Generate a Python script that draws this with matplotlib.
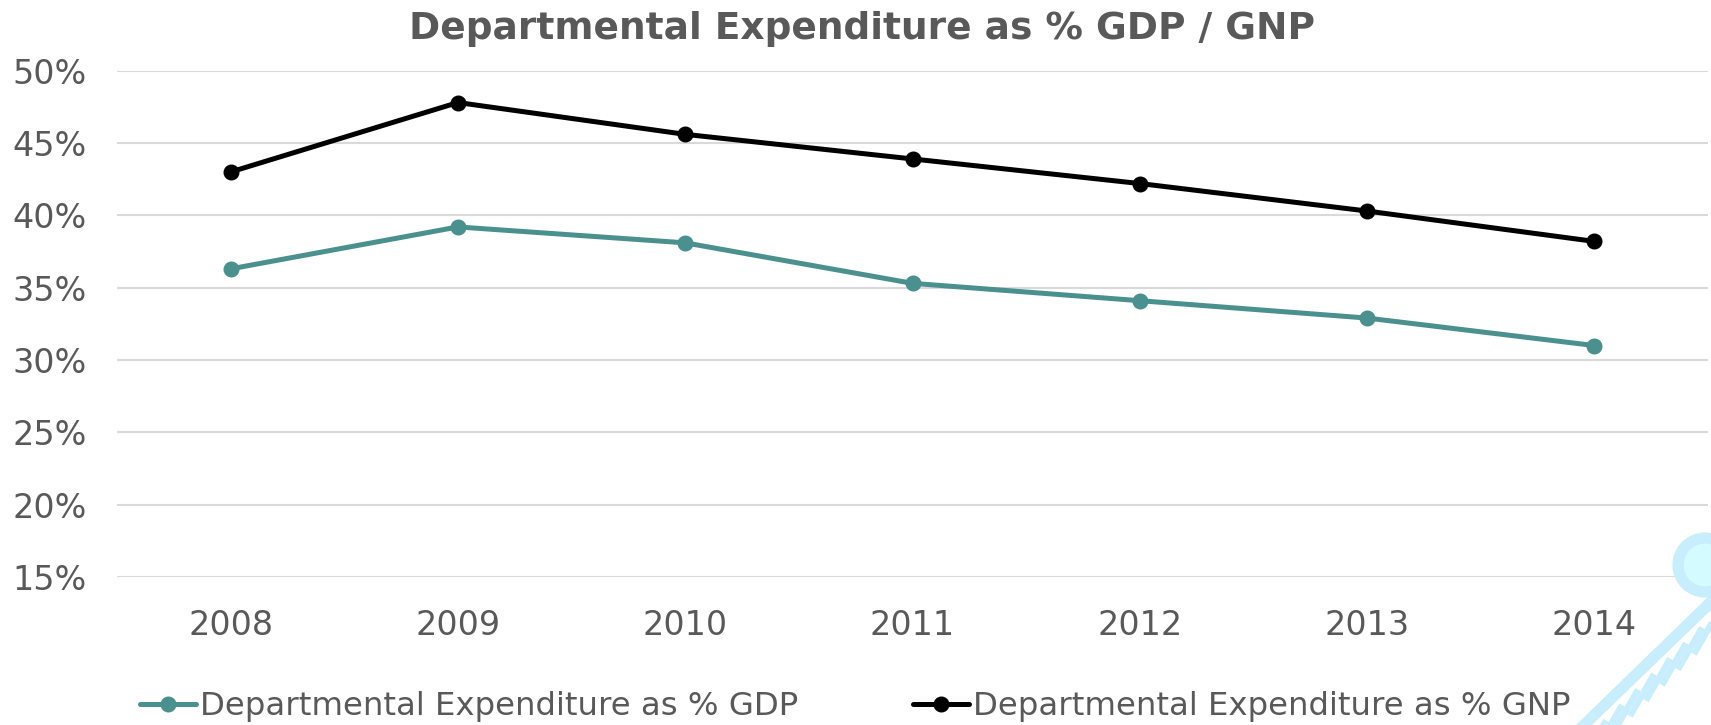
import matplotlib
matplotlib.use("Agg")
import matplotlib.pyplot as plt
from matplotlib.ticker import FuncFormatter
from matplotlib.patches import Circle, Polygon
from matplotlib.lines import Line2D
from matplotlib.transforms import IdentityTransform

years = ["2008", "2009", "2010", "2011", "2012", "2013", "2014"]
gdp = [36.3, 39.2, 38.1, 35.3, 34.1, 32.9, 31.0]
gnp = [43.0, 47.8, 45.6, 43.9, 42.2, 40.3, 38.2]
label_gdp = "Departmental Expenditure as % GDP"
label_gnp = "Departmental Expenditure as % GNP"
title = "Departmental Expenditure as % GDP / GNP"
yticks = [15, 20, 25, 30, 35, 40, 45, 50]

TEXT = "#595959"
TEAL = "#4a908e"
W, H = 1711, 725

plt.rcParams['font.family'] = ['DejaVu Sans']
fig = plt.figure(figsize=(W / 100, H / 100), dpi=100)
fig.patch.set_facecolor("white")

# watermark (light blue harp-like shape, bottom right), pixel coords y-down
wm = "#c8edfc"
T = IdentityTransform()


def P(xp, yp):
    return (xp, H - yp)


def band_right(xp):
    return 725 - (xp - 1592) * 0.967


fig.patches.append(Circle(P(1705, 565), 27, transform=T, facecolor="#d4fbff",
                          edgecolor=wm, linewidth=8, zorder=0))
fig.patches.append(Polygon([P(1576, 725), P(1592, 725), P(1711, 610), P(1711, 594)],
                           closed=True, transform=T, facecolor=wm, edgecolor="none", zorder=0))
for k in range(8):
    xt = 1606 + k * 16
    yt = band_right(xt) + 9
    xb, yb = xt - 24, yt + 42
    fig.add_artist(Line2D([xt, xb], [H - yt, H - yb], transform=T,
                          color=wm, linewidth=4.5, solid_capstyle="butt", zorder=0))

ax = fig.add_axes([117 / W, 1 - 577 / H, (1708 - 117) / W, (577 - 70.7) / H])
x = list(range(len(years)))
ax.plot(x, gdp, color=TEAL, linewidth=3.6, marker="o", markersize=10.5, label=label_gdp,
        solid_capstyle="round", zorder=3)
ax.plot(x, gnp, color="black", linewidth=3.6, marker="o", markersize=10.5, label=label_gnp,
        solid_capstyle="round", zorder=3)

ax.set_xlim(-0.5, len(years) - 0.5)
ax.set_ylim(15, 50)
ax.set_yticks(yticks)
ax.yaxis.set_major_formatter(FuncFormatter(lambda v, p: f"{v:.0f}%"))
ax.set_xticks(x)
ax.set_xticklabels(years)
ax.grid(axis="y", color="#d9d9d9", linewidth=1.5)
ax.set_axisbelow(True)
for s in ax.spines.values():
    s.set_visible(False)
ax.tick_params(axis="both", length=0, labelsize=24, labelcolor=TEXT)
ax.tick_params(axis="y", pad=22)
ax.tick_params(axis="x", pad=23)
ax.patch.set_alpha(0)

fig.text(862 / W, 1 - 29 / H, title, ha="center", va="center", fontsize=27,
         fontweight="bold", color=TEXT)

leg = fig.legend(loc="center left", bbox_to_anchor=(140 / W, 1 - 707 / H), ncol=2,
                 frameon=False, fontsize=23.3, labelcolor=TEXT, handlelength=1.72,
                 handletextpad=0.12, columnspacing=3.56, borderpad=0, borderaxespad=0)

fig.savefig("out.png", dpi=100, facecolor="white")
